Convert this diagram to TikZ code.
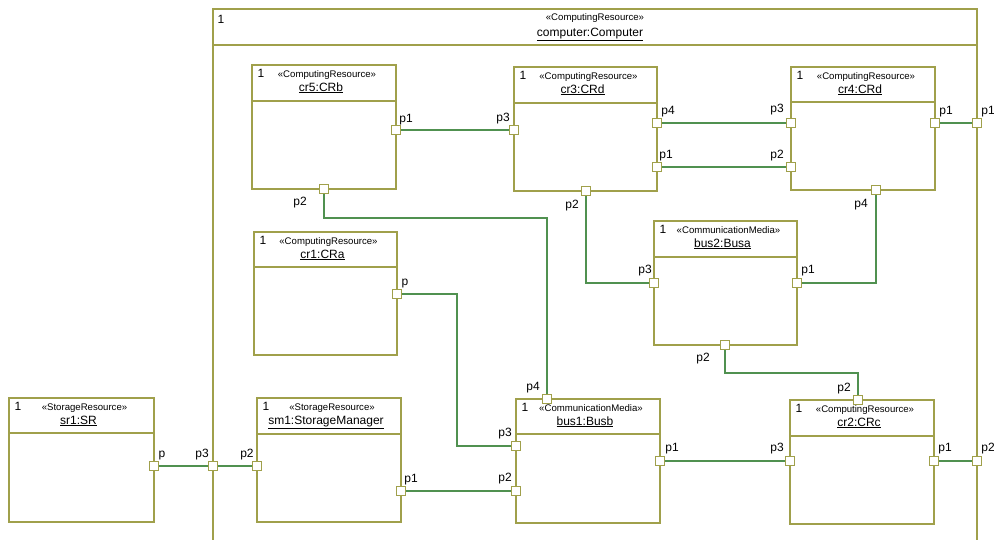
\documentclass[tikz,border=0pt]{standalone}
\usepackage{fontspec}
\setmainfont{Liberation Sans}
\usetikzlibrary{backgrounds,calc}
\definecolor{boxc}{RGB}{160,160,75}
\definecolor{wirec}{RGB}{80,145,80}
\tikzset{
  umlbox/.style={draw=boxc, line width=1.2pt, anchor=north west, inner sep=0pt, outer sep=0pt},
  hdrline/.style={draw=boxc, line width=1.2pt},
  portbox/.style={draw=boxc, fill=white, line width=1.2pt, minimum size=8.5pt, inner sep=0pt, outer sep=0pt},
  wire/.style={draw=wirec, line width=1.2pt},
  lbl/.style={font=\fontsize{12}{14}\selectfont, inner sep=0pt, anchor=base},
  stereo/.style={font=\fontsize{9.6}{11}\selectfont, inner sep=0pt, anchor=base},
  nm/.style={font=\fontsize{12}{14}\selectfont, inner sep=0pt, anchor=base},
}
% name, left, top, right, bottom, header y, stereotype, label
\newcommand\umlpart[8]{%
  \node[umlbox, minimum width={#4-#2}, minimum height={#5-#3}] (#1) at (#2,#3) {};
  \draw[hdrline] (#2,#6) -- (#4,#6);
  \node[lbl] (#1-m) at (#2+9,#3+12.5) {1};
  \node[stereo] (#1-s) at ({(#2+#4)/2+3},#3+12) {«#7»};
  \node[nm] (#1-n) at ({(#2+#4)/2-3},#3+26) {\underline{#8}};
}
% name, x, y, label x, label y, label text
\newcommand\umlport[6]{%
  \node[portbox] (#1) at (#2,#3) {};
  \node[lbl] (#1-l) at (#4,#5+4) {#6};
}
\begin{document}
\begin{tikzpicture}[x=1pt,y=-1pt]
\useasboundingbox (0,0) rectangle (994,539);
% outer computer
\node[umlbox, minimum width=764, minimum height=560] (comp) at (213,9) {};
\draw[hdrline] (213,45) -- (977,45);
\node[lbl] (comp-m) at (221,23) {1};
\node[stereo] (comp-s) at (595,20) {«ComputingResource»};
\node[nm] (comp-n) at (590,36) {\underline{computer:Computer}};
% parts
\umlpart{sr1}{9}{398}{154}{522}{433}{StorageResource}{sr1:SR}
\umlpart{sm1}{257}{398}{401}{522}{434}{StorageResource}{sm1:StorageManager}
\umlpart{bus1}{516}{399}{660}{523}{434}{CommunicationMedia}{bus1:Busb}
\umlpart{cr2}{790}{400}{934}{524}{436}{ComputingResource}{cr2:CRc}
\umlpart{bus2}{654}{221}{797}{345}{257}{CommunicationMedia}{bus2:Busa}
\umlpart{cr3}{514}{67}{657}{191}{103}{ComputingResource}{cr3:CRd}
\umlpart{cr4}{791}{67}{935}{190}{102}{ComputingResource}{cr4:CRd}
\umlpart{cr5}{252}{65}{396}{189}{101}{ComputingResource}{cr5:CRb}
\umlpart{cr1}{254}{232}{397}{355}{267}{ComputingResource}{cr1:CRa}
% ports
\umlport{sr1p}{154}{466}{162}{453}{p}
\umlport{compP3}{213}{466}{202}{453}{p3}
\umlport{sm1p2}{257}{466}{247}{453}{p2}
\umlport{sm1p1}{401}{491}{411}{478}{p1}
\umlport{bus1p2}{516}{491}{505}{477}{p2}
\umlport{bus1p3}{516}{446}{505}{432}{p3}
\umlport{bus1p4}{547}{399}{533}{386}{p4}
\umlport{bus1p1}{660}{461}{672}{447}{p1}
\umlport{cr2p3}{790}{461}{777}{447}{p3}
\umlport{cr2p1}{934}{461}{945}{447}{p1}
\umlport{cr2p2}{858}{400}{844}{387}{p2}
\umlport{compP2}{977}{461}{988}{447}{p2}
\umlport{bus2p3}{654}{283}{645}{269}{p3}
\umlport{bus2p1}{797}{283}{808}{269}{p1}
\umlport{bus2p2}{725}{345}{703}{357}{p2}
\umlport{cr3p3}{514}{130}{503}{117}{p3}
\umlport{cr3p4}{657}{123}{668}{110}{p4}
\umlport{cr3p1}{657}{167}{666}{154}{p1}
\umlport{cr3p2}{586}{191}{572}{204}{p2}
\umlport{cr4p3}{791}{123}{777}{108}{p3}
\umlport{cr4p2}{791}{167}{777}{154}{p2}
\umlport{cr4p1}{935}{123}{946}{110}{p1}
\umlport{compP1}{977}{123}{988}{110}{p1}
\umlport{cr4p4}{876}{190}{861}{203}{p4}
\umlport{cr5p1}{396}{130}{406}{118}{p1}
\umlport{cr5p2}{324}{189}{300}{201}{p2}
\umlport{cr1p}{397}{294}{405}{281}{p}
% connectors
\coordinate (k1) at (457,446);
\begin{pgfonlayer}{background}
  \draw[wire] (sr1p.center) -- (compP3.center) -- (sm1p2.center);
  \draw[wire] (sm1p1.center) -- (bus1p2.center);
  \draw[wire] (bus1p1.center) -- (cr2p3.center);
  \draw[wire] (cr2p1.center) -- (compP2.center);
  \draw[wire] (cr5p1.center) -- (cr3p3.center);
  \draw[wire] (cr3p4.center) -- (cr4p3.center);
  \draw[wire] (cr3p1.center) -- (cr4p2.center);
  \draw[wire] (cr4p1.center) -- (compP1.center);
  \draw[wire] (cr5p2.center) -- ++(0,29) -| (bus1p4.center);
  \draw[wire] (cr1p.center) -| (k1) -- (bus1p3.center);
  \draw[wire] (cr3p2.center) |- (bus2p3.center);
  \draw[wire] (cr4p4.center) |- (bus2p1.center);
  \draw[wire] (bus2p2.center) -- ++(0,28) -| (cr2p2.center);
\end{pgfonlayer}
\end{tikzpicture}
\end{document}
